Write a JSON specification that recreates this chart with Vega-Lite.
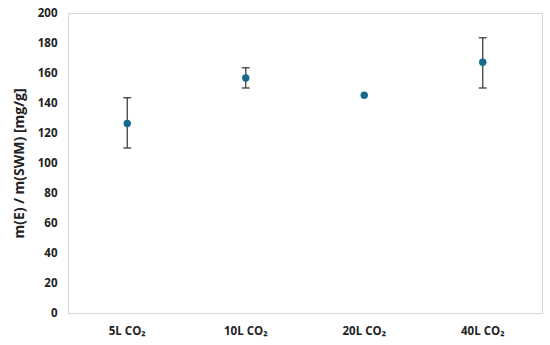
{
  "$schema": "https://vega.github.io/schema/vega-lite/v6.json",
  "autosize": "none",
  "width": 474,
  "height": 300,
  "padding": {"left": 68, "top": 13, "right": 8, "bottom": 32},
  "background": "white",
  "config": {
    "view": {"stroke": "#d4d4d4", "strokeWidth": 1},
    "font": "Open Sans",
    "axisY": {"grid": false, "domain": false, "ticks": false, "labelPadding": 11, "labelFont": "Open Sans", "labelFontWeight": "bold", "labelFontSize": 11.5, "labelColor": "#222", "titleFont": "Open Sans", "titleFontWeight": "bold", "titleFontSize": 14, "titleColor": "#222", "titlePadding": 11, "labelOverlap": false}
  },
  "data": {
    "values": [
      {"group": "5L CO₂", "value": 126.3, "lo": 110, "hi": 143.5},
      {"group": "10L CO₂", "value": 156.7, "lo": 150, "hi": 163.5},
      {"group": "20L CO₂", "value": 145.2, "lo": null, "hi": null},
      {"group": "40L CO₂", "value": 167.2, "lo": 150, "hi": 183.5}
    ]
  },
  "encoding": {
    "x": {
      "field": "group", "type": "nominal", "sort": ["5L CO₂", "10L CO₂", "20L CO₂", "40L CO₂"],
      "scale": {"paddingInner": 0, "paddingOuter": 0},
      "axis": {"title": null, "labelAngle": 0, "domain": false, "ticks": false, "labelPadding": 12, "labelFont": "Open Sans", "labelFontWeight": "bold", "labelFontSize": 11.5, "labelColor": "#222"}
    }
  },
  "layer": [
    {
      "transform": [{"filter": "datum.lo != null"}],
      "mark": {"type": "rule", "color": "#404040", "strokeWidth": 1.3},
      "encoding": {
        "y": {"field": "lo", "type": "quantitative", "title": "m(E) / m(SWM) [mg/g]", "scale": {"domain": [0, 200]}, "axis": {"values": [0,20,40,60,80,100,120,140,160,180,200]}},
        "y2": {"field": "hi"}
      }
    },
    {
      "transform": [{"filter": "datum.lo != null"}],
      "mark": {"type": "tick", "color": "#404040", "size": 8, "thickness": 1.3, "opacity": 1},
      "encoding": {
        "y": {"field": "lo", "type": "quantitative", "title": "m(E) / m(SWM) [mg/g]", "scale": {"domain": [0, 200]}, "axis": {"values": [0,20,40,60,80,100,120,140,160,180,200]}}
      }
    },
    {
      "transform": [{"filter": "datum.lo != null"}],
      "mark": {"type": "tick", "color": "#404040", "size": 8, "thickness": 1.3, "opacity": 1},
      "encoding": {
        "y": {"field": "hi", "type": "quantitative", "title": "m(E) / m(SWM) [mg/g]", "scale": {"domain": [0, 200]}, "axis": {"values": [0,20,40,60,80,100,120,140,160,180,200]}}
      }
    },
    {
      "mark": {"type": "point", "filled": true, "size": 55, "color": "#17698d", "opacity": 1},
      "encoding": {
        "y": {"field": "value", "type": "quantitative", "title": "m(E) / m(SWM) [mg/g]", "scale": {"domain": [0, 200]}, "axis": {"values": [0,20,40,60,80,100,120,140,160,180,200]}}
      }
    }
  ]
}
